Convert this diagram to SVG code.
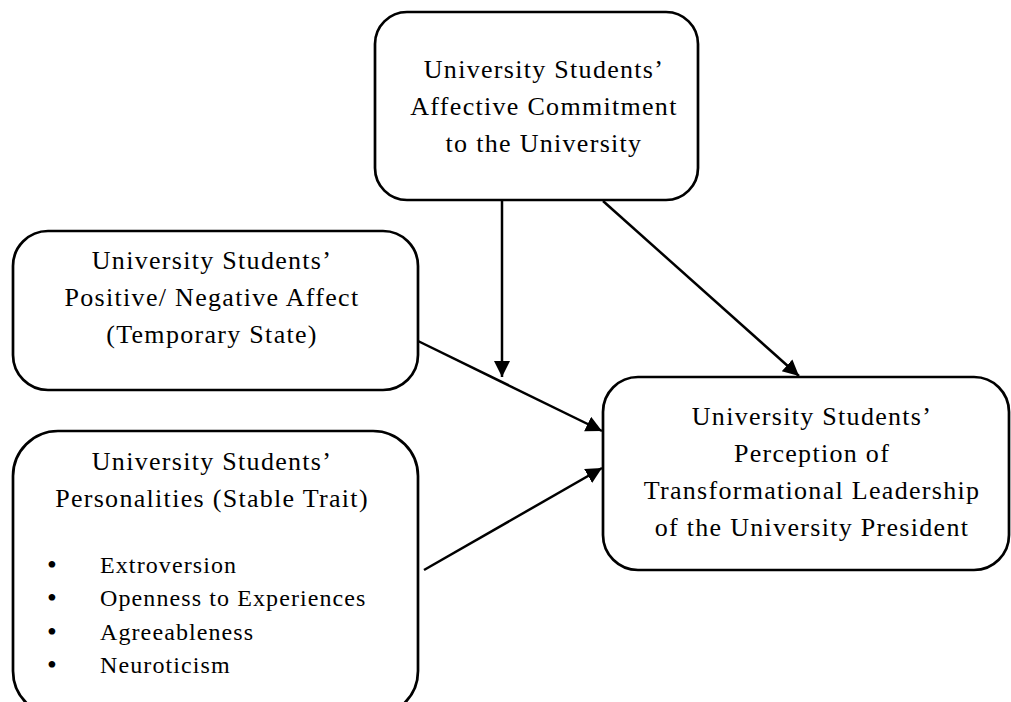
<svg xmlns="http://www.w3.org/2000/svg" width="1011" height="702" viewBox="0 0 1011 702">
<style>
.box{fill:#fff;stroke:#000;stroke-width:2.7}
.t{font-family:"Liberation Serif","Times New Roman",serif;font-size:26px;letter-spacing:1.3px;fill:#000;text-anchor:middle}
.l{font-family:"Liberation Serif","Times New Roman",serif;font-size:24px;letter-spacing:1.1px;fill:#000}
.b{font-family:"Liberation Serif","Times New Roman",serif;font-size:28px;fill:#000;text-anchor:middle}
.c{stroke:#000;stroke-width:2.5;fill:none;marker-end:url(#ah)}
</style>
<defs>
<marker id="ah" markerUnits="userSpaceOnUse" markerWidth="18" markerHeight="18" refX="16" refY="8" orient="auto">
<path d="M0,0 L16,8 L0,16 z" fill="#000"/>
</marker>
</defs>
<rect width="1011" height="702" fill="#fff"/>
<g id="connectors">
<line class="c" x1="502" y1="201" x2="502" y2="377"/>
<line class="c" x1="603" y1="201" x2="799" y2="376"/>
<line class="c" x1="418" y1="341" x2="602" y2="431"/>
<line class="c" x1="424" y1="570" x2="602" y2="468"/>
</g>
<g id="commitment">
<rect class="box" x="375" y="12" width="323" height="188" rx="32"/>
<text class="t" x="544" y="78">University Students’</text>
<text class="t" x="544" y="115">Affective Commitment</text>
<text class="t" x="544" y="152">to the University</text>
</g>
<g id="affect">
<rect class="box" x="13" y="231" width="405" height="159" rx="35"/>
<text class="t" x="212" y="269">University Students’</text>
<text class="t" x="212" y="306">Positive/ Negative Affect</text>
<text class="t" x="212" y="343">(Temporary State)</text>
</g>
<g id="perception">
<rect class="box" x="603" y="377" width="406" height="193" rx="35"/>
<text class="t" x="812" y="425">University Students’</text>
<text class="t" x="812" y="462">Perception of</text>
<text class="t" x="812" y="499">Transformational Leadership</text>
<text class="t" x="812" y="536">of the University President</text>
</g>
<g id="personality">
<rect class="box" x="13" y="431" width="405" height="285" rx="45"/>
<text class="t" x="212" y="470">University Students’</text>
<text class="t" x="212" y="507">Personalities (Stable Trait)</text>
<text class="b" x="52" y="574">•</text>
<text class="l" x="100" y="573">Extroversion</text>
<text class="b" x="52" y="607">•</text>
<text class="l" x="100" y="606">Openness to Experiences</text>
<text class="b" x="52" y="641">•</text>
<text class="l" x="100" y="640">Agreeableness</text>
<text class="b" x="52" y="674">•</text>
<text class="l" x="100" y="673">Neuroticism</text>
</g>
</svg>
